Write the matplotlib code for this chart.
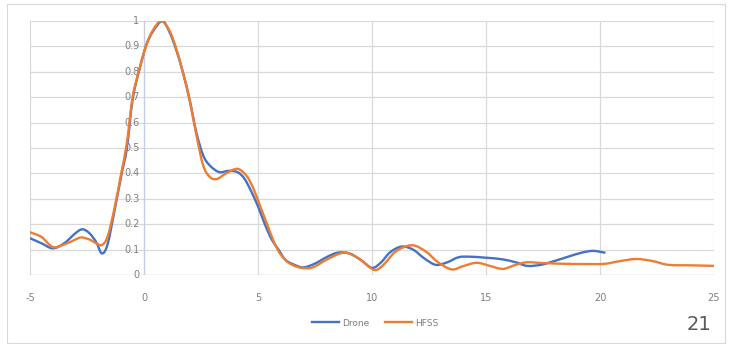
import matplotlib
matplotlib.use("Agg")
import matplotlib.pyplot as plt
from matplotlib.path import Path
from matplotlib.patches import PathPatch
from matplotlib.lines import Line2D

# Normalised pattern: measured with the drone vs. HFSS simulation
drone_x = [-5.0, -4.5, -4.0, -3.5, -3.0, -2.7, -2.4, -2.1, -1.85, -1.6, -1.3, -1.0,
           -0.75, -0.5, -0.2, 0.1, 0.4, 0.8, 1.1, 1.4, 1.7, 2.0, 2.3, 2.6, 2.9,
           3.3, 3.7, 4.1, 4.4, 4.7, 5.0, 5.3, 5.6, 5.9, 6.2, 6.6, 7.0, 7.5, 8.0,
           8.5, 9.0, 9.5, 10.0, 10.4, 10.8, 11.3, 11.8, 12.3, 12.8, 13.3, 13.8,
           14.3, 15.0, 15.7, 16.3, 16.8, 17.4, 18.0, 18.6, 19.2, 19.7, 20.2]
drone_y = [0.145, 0.125, 0.105, 0.125, 0.165, 0.18, 0.165, 0.13, 0.085, 0.12, 0.25,
           0.39, 0.5, 0.69, 0.81, 0.905, 0.96, 1.0, 0.96, 0.89, 0.8, 0.69, 0.56,
           0.47, 0.43, 0.405, 0.41, 0.405, 0.38, 0.33, 0.27, 0.2, 0.14, 0.1, 0.06,
           0.04, 0.03, 0.045, 0.07, 0.088, 0.085, 0.06, 0.028, 0.05, 0.09, 0.112,
           0.1, 0.065, 0.04, 0.05, 0.07, 0.072, 0.068, 0.062, 0.05, 0.036, 0.04,
           0.055, 0.072, 0.088, 0.095, 0.088]

hfss_x = [-5.0, -4.5, -4.0, -3.5, -3.0, -2.75, -2.4, -2.1, -1.85, -1.6, -1.3, -1.0,
          -0.75, -0.5, -0.2, 0.1, 0.4, 0.75, 1.1, 1.4, 1.7, 2.0, 2.3, 2.6, 2.9,
          3.2, 3.6, 4.1, 4.5, 4.8, 5.1, 5.4, 5.7, 6.0, 6.4, 6.9, 7.4, 8.0, 8.6,
          9.0, 9.5, 10.1, 10.5, 11.0, 11.5, 11.9, 12.4, 12.9, 13.5, 14.0, 14.6,
          15.2, 15.75, 16.3, 16.8, 17.5, 18.5, 19.5, 20.2, 20.9, 21.6, 22.3, 23.0,
          24.0, 25.0]
hfss_y = [0.168, 0.15, 0.11, 0.12, 0.14, 0.148, 0.14, 0.125, 0.118, 0.15, 0.26,
          0.4, 0.52, 0.7, 0.81, 0.905, 0.965, 1.0, 0.965, 0.895, 0.8, 0.69, 0.55,
          0.43, 0.385, 0.378, 0.4, 0.418, 0.39, 0.34, 0.27, 0.2, 0.13, 0.08,
          0.045, 0.028, 0.03, 0.06, 0.085, 0.085, 0.06, 0.02, 0.04, 0.09, 0.113,
          0.115, 0.09, 0.05, 0.022, 0.035, 0.048, 0.035, 0.024, 0.04, 0.05,
          0.047, 0.044, 0.043, 0.044, 0.055, 0.063, 0.055, 0.04, 0.038, 0.036]

x_ticks = [-5, 0, 5, 10, 15, 20, 25]
y_ticks = [0, 0.1, 0.2, 0.3, 0.4, 0.5, 0.6, 0.7, 0.8, 0.9, 1]
y_labels = ["0", "0.1", "0.2", "0.3", "0.4", "0.5", "0.6", "0.7", "0.8", "0.9", "1"]

BLUE = "#4472C4"
ORANGE = "#ED7D31"
GRID = "#d9d9d9"
TEXT = "#7f7f7f"


def smooth_path(xs, ys):
    """Smoothed line through the points (Catmull-Rom as cubic Bezier segments)."""
    pts = list(zip(xs, ys))
    n = len(pts)
    verts = [pts[0]]
    codes = [Path.MOVETO]
    for i in range(n - 1):
        p0 = pts[i - 1] if i > 0 else pts[i]
        p1 = pts[i]
        p2 = pts[i + 1]
        p3 = pts[i + 2] if i + 2 < n else pts[i + 1]
        c1 = (p1[0] + (p2[0] - p0[0]) / 6, p1[1] + (p2[1] - p0[1]) / 6)
        c2 = (p2[0] - (p3[0] - p1[0]) / 6, p2[1] - (p3[1] - p1[1]) / 6)
        verts += [c1, c2, p2]
        codes += [Path.CURVE4] * 3
    return Path(verts, codes)


fig = plt.figure(figsize=(7.4, 3.44), dpi=100)
fig.patch.set_facecolor("white")

# outer chart-area frame
frame = plt.Rectangle((7 / 740, 1 / 344), 718 / 740, 339 / 344,
                      transform=fig.transFigure, fill=False,
                      edgecolor="#d9d9d9", linewidth=0.8)
fig.add_artist(frame)

ax = fig.add_axes([30 / 740, 1 - 275 / 344, 684 / 740, 254 / 344])
ax.set_xlim(-5, 25)
ax.set_ylim(0, 1)

for s in ax.spines.values():
    s.set_visible(False)

# gridlines
for yv in y_ticks[1:]:
    ax.axhline(yv, color=GRID, linewidth=0.9, zorder=0)
for xv in x_ticks:
    if xv != 0:
        ax.axvline(xv, color=GRID, linewidth=0.9, zorder=0)
ax.axhline(0, color="#c8c8c8", linewidth=1.0, zorder=1)
ax.axvline(0, color="#c5cde0", linewidth=1.0, zorder=1)

series = [("Drone", drone_x, drone_y, BLUE, 3), ("HFSS", hfss_x, hfss_y, ORANGE, 4)]
handles = []
for name, xs, ys, col, z in series:
    patch = PathPatch(smooth_path(xs, ys), fill=False, edgecolor=col,
                      linewidth=1.7, joinstyle="round", capstyle="round",
                      zorder=z)
    ax.add_patch(patch)
    handles.append(Line2D([], [], color=col, linewidth=1.7, label=name))

ax.set_xticks(x_ticks)
ax.set_xticklabels([str(v) for v in x_ticks])
ax.set_yticks([])
ax.tick_params(axis="x", length=0, pad=13, labelsize=7, labelcolor=TEXT)

# y labels sit beside the vertical axis at x = 0
for yv, lab in zip(y_ticks, y_labels):
    ax.text(-0.2, yv, lab, ha="right", va="center", fontsize=7, color=TEXT,
            zorder=2)

fig.legend(handles=handles, loc="center",
           bbox_to_anchor=(375 / 740, 1 - 323 / 344), ncol=2,
           frameon=False, fontsize=6.5, handlelength=3.0, columnspacing=1.8,
           handletextpad=0.3, labelcolor=TEXT)

fig.text(699 / 740, 1 - 325 / 344, "21", ha="center", va="center",
         fontsize=14, color="#595959")

fig.savefig("out.png", dpi=100, facecolor="white")
